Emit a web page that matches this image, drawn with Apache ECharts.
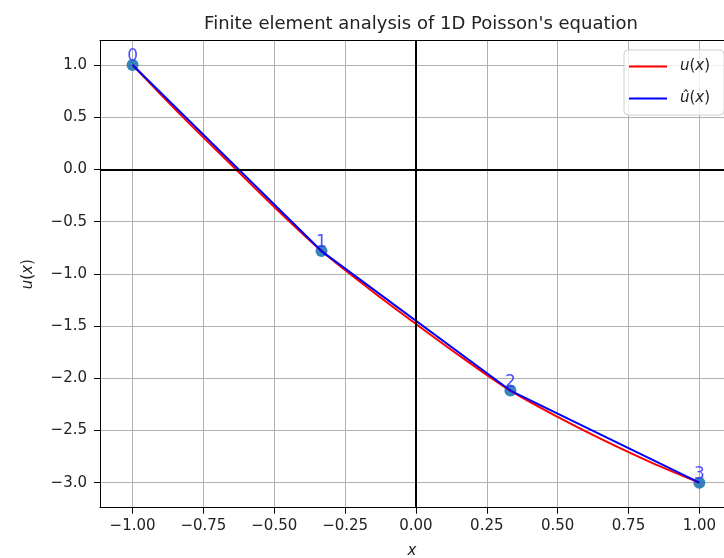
<!DOCTYPE html>
<html>
<head>
<meta charset="utf-8">
<script src="https://cdn.jsdelivr.net/npm/echarts@6/dist/echarts.min.js"></script>
<style>
html,body{margin:0;padding:0;background:#fff;}
#chart{width:724px;height:558px;}
</style>
</head>
<body>
<div id="chart"></div>
<script>
// Exact solution u(x) (red)
const exactX = [-1.0, -0.833, -0.667, -0.5, -0.333, -0.167, 0.0, 0.167, 0.333, 0.5, 0.667, 0.833, 1.0];
const exactU = [1.0, 0.53, 0.085, -0.36, -0.782, -1.14, -1.48, -1.81, -2.118, -2.37, -2.6, -2.81, -3.0];
// FE nodal solution (blue)
const nodeX = [-1.0, -0.3333, 0.3333, 1.0];
const nodeU = [1.0, -0.782, -2.118, -3.0];
const nodeLabels = ['0', '1', '2', '3'];
// Tick values
const xTicks = [-1.0, -0.75, -0.5, -0.25, 0.0, 0.25, 0.5, 0.75, 1.0];
const yTicks = [1.0, 0.5, 0.0, -0.5, -1.0, -1.5, -2.0, -2.5, -3.0];
const titleText = "Finite element analysis of 1D Poisson's equation";

const FONT = 'DejaVu Sans';
const fmtX = v => (Math.abs(v) < 1e-9 ? '0.00' : (v < 0 ? '\u2212' : '') + Math.abs(v).toFixed(2));
const fmtY = v => (Math.abs(v) < 1e-9 ? '0.0' : (v < 0 ? '\u2212' : '') + Math.abs(v).toFixed(1));

const exactData = exactX.map((x, i) => [x, exactU[i]]);
const nodeData = nodeX.map((x, i) => [x, nodeU[i]]);
const scatterData = nodeX.map((x, i) => ({ value: [x, nodeU[i]], label: { formatter: nodeLabels[i] } }));

const chart = echarts.init(document.getElementById('chart'), null, { renderer: 'canvas' });
const xMin = -1.115, xMax = 1.087, yMin = -3.24, yMax = 1.233;
const axisTextColor = '#222';
chart.setOption({
  animation: false,
  backgroundColor: '#ffffff',
  textStyle: { fontFamily: FONT },
  title: {
    text: titleText,
    left: 416, top: 10, textAlign: 'center',
    textStyle: { fontFamily: FONT, fontSize: 18, fontWeight: 'normal', color: '#222' }
  },
  legend: {
    orient: 'vertical',
    left: 624, top: 50,
    padding: [9, 14, 9, 5],
    itemWidth: 38, itemHeight: 2, itemGap: 17,
    backgroundColor: 'rgba(255,255,255,0.8)',
    borderColor: '#d0d0d0', borderWidth: 1, borderRadius: 4,
    icon: 'rect',
    data: [{ name: 'u', itemStyle: { color: '#ff0000' } }, { name: 'uhat', itemStyle: { color: '#0000ff' } }],
    formatter: n => n === 'u' ? '{i|u}({i|x})' : '{i|\u00fb}({i|x})',
    textStyle: {
      fontFamily: FONT, fontSize: 15, color: '#222', padding: [0, 0, 0, 8],
      rich: { i: { fontFamily: FONT, fontStyle: 'italic', fontSize: 15, color: '#222' } }
    }
  },
  grid: { left: 100, right: 0, top: 40.7, bottom: 50.3, containLabel: false, outerBoundsMode: 'none' },
  xAxis: [{
    type: 'value', min: xMin, max: xMax, position: 'bottom',
    name: 'x', nameLocation: 'middle', nameGap: 36,
    nameTextStyle: { fontFamily: FONT, fontSize: 15, fontStyle: 'italic', color: '#222' },
    axisLine: { show: true, onZero: false, lineStyle: { color: '#000', width: 1 } },
    axisTick: { show: true, customValues: xTicks, length: 6, lineStyle: { color: '#000' } },
    axisLabel: { customValues: xTicks, formatter: fmtX, margin: 11, fontFamily: FONT, fontSize: 15, color: axisTextColor },
    splitLine: { show: true, lineStyle: { color: '#b0b0b0', width: 1 } }
  }, {
    type: 'value', min: xMin, max: xMax, position: 'top',
    axisLine: { show: true, onZero: false, lineStyle: { color: '#000', width: 1 } },
    axisTick: { show: false }, axisLabel: { show: false }, splitLine: { show: false }
  }],
  yAxis: [{
    type: 'value', min: yMin, max: yMax, position: 'left',
    name: '{i|u}({i|x})', nameLocation: 'middle', nameGap: 64, nameRotate: 90,
    nameTextStyle: { fontFamily: FONT, fontSize: 15, color: '#222',
      rich: { i: { fontFamily: FONT, fontStyle: 'italic', fontSize: 15, color: '#222' } } },
    axisLine: { show: true, onZero: false, lineStyle: { color: '#000', width: 1 } },
    axisTick: { show: true, customValues: yTicks, length: 6, lineStyle: { color: '#000' } },
    axisLabel: { customValues: yTicks, formatter: fmtY, margin: 13, fontFamily: FONT, fontSize: 15, color: axisTextColor },
    splitLine: { show: true, lineStyle: { color: '#b0b0b0', width: 1 } }
  }],
  series: [{
    name: 'zero', type: 'line', data: [], silent: true,
    markLine: {
      silent: true, symbol: ['none', 'none'], label: { show: false },
      lineStyle: { color: '#000', width: 2, type: 'solid' },
      data: [{ xAxis: 0 }, { yAxis: 0 }]
    }
  }, {
    name: 'u', type: 'line', data: exactData, showSymbol: false, smooth: 0.3,
    lineStyle: { color: '#ff0000', width: 2 }, itemStyle: { color: '#ff0000' }, z: 3
  }, {
    name: 'scatter', type: 'scatter', data: scatterData, symbolSize: 12,
    itemStyle: { color: '#1f77b4', opacity: 0.9 }, z: 2,
    label: { show: true, position: 'inside', offset: [0, -8], fontFamily: FONT, fontSize: 17, color: '#3a3aff' }
  }, {
    name: 'uhat', type: 'line', data: nodeData, showSymbol: false,
    lineStyle: { color: '#0000ff', width: 2 }, itemStyle: { color: '#0000ff' }, z: 4
  }]
});
</script>
</body>
</html>
